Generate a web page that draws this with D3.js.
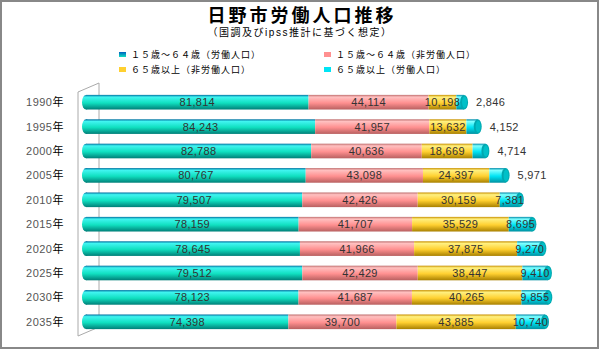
<!DOCTYPE html>
<html>
<head>
<meta charset="utf-8">
<script src="https://cdn.jsdelivr.net/npm/d3@7"></script>
<style>
  body { margin: 0; background: #fff; }
  text { font-family: "Liberation Sans", "Noto Sans CJK JP", sans-serif; }
</style>
</head>
<body>
<div id="chart"></div>
<script>
// 日野市労働人口推移
const years = ["1990", "1995", "2000", "2005", "2010", "2015", "2020", "2025", "2030", "2035"]
const work1564 = [81814, 84243, 82788, 80767, 79507, 78159, 78645, 79512, 78123, 74398]
const nonWork1564 = [44114, 41957, 40636, 43098, 42426, 41707, 41966, 42429, 41687, 39700]
const nonWork65 = [10198, 13632, 18669, 24397, 30159, 35529, 37875, 38447, 40265, 43885]
const work65 = [2846, 4152, 4714, 5971, 7381, 8695, 9270, 9410, 9855, 10740]
const seriesNames = ["１５歳～６４歳（労働人口）", "１５歳～６４歳（非労働人口）", "６５歳以上（非労働人口）", "６５歳以上（労働人口）"]

const width = 600
const height = 350

const svg = d3.select("#chart").append("svg")
  .attr("width", width)
  .attr("height", height)

// frame
svg.append("rect")
  .attr("x", 1).attr("y", 1)
  .attr("width", width - 3).attr("height", height - 3)
  .attr("fill", "#fff")
  .attr("stroke", "#888").attr("stroke-width", 2)

const palettes = [
  { top: "#40f4f0", mid: "#10e0c0", bot: "#007f78", edge: "#0070a0" },
  { top: "#ffc0c0", mid: "#ff9090", bot: "#b86060", edge: "#c07070" },
  { top: "#fff080", mid: "#ffd030", bot: "#a88000", edge: "#c89000" },
  { top: "#80ffff", mid: "#00e4f4", bot: "#0090a0", edge: "#0088a8" }
]

const defs = svg.append("defs")
palettes.forEach((p, i) => {
  const g = defs.append("linearGradient")
    .attr("id", "g" + i)
    .attr("x1", 0).attr("y1", 0).attr("x2", 0).attr("y2", 1)
  g.append("stop").attr("offset", "0%").attr("stop-color", p.edge)
  g.append("stop").attr("offset", "15%").attr("stop-color", p.top)
  g.append("stop").attr("offset", "55%").attr("stop-color", p.mid)
  g.append("stop").attr("offset", "100%").attr("stop-color", p.bot)
})
const lg = defs.append("linearGradient")
  .attr("id", "legend0")
  .attr("x1", 0).attr("y1", 0).attr("x2", 0).attr("y2", 1)
lg.append("stop").attr("offset", "0%").attr("stop-color", "#0060c0")
lg.append("stop").attr("offset", "100%").attr("stop-color", "#10e0c0")

// title
svg.append("text")
  .attr("x", 302).attr("y", 22)
  .attr("text-anchor", "middle")
  .attr("font-size", "18px").attr("font-weight", "bold")
  .attr("letter-spacing", "3px")
  .attr("fill", "#000")
  .text("日野市労働人口推移")

svg.append("text")
  .attr("x", 300).attr("y", 36)
  .attr("text-anchor", "middle")
  .attr("font-size", "10px")
  .attr("letter-spacing", "1.5px")
  .attr("fill", "#000")
  .text("（国調及びipss推計に基づく想定）")

// legend
const legendPos = [[119, 54], [324, 54], [119, 69], [324, 69]]
seriesNames.forEach((name, i) => {
  const [lx, ly] = legendPos[i]
  svg.append("rect")
    .attr("x", lx).attr("y", ly - 2)
    .attr("width", 7).attr("height", 5)
    .attr("fill", i === 0 ? "url(#legend0)" : palettes[i].mid)
  svg.append("text")
    .attr("x", lx + 12).attr("y", ly + 3.5)
    .attr("font-size", "9px")
    .attr("letter-spacing", "1px")
    .attr("fill", "#000")
    .text(name)
})

const x = d3.scaleLinear()
  .domain([0, 168723])
  .range([86, 545])

const y = d3.scaleBand()
  .domain(years)
  .range([90, 334])
  .paddingInner(0.4)
  .paddingOuter(0.2)

// 3D wall
const wall = svg.append("g").attr("stroke", "#aaa").attr("fill", "none").attr("stroke-width", 1)
wall.append("path").attr("d", "M99,83 L99,321")
wall.append("path").attr("d", "M99,83 L78,92 L78,336 L99,327")

// year labels
const yl = svg.append("g").selectAll("text")
  .data(years)
  .join("text")
  .attr("x", 64)
  .attr("y", d => y(d) + y.bandwidth() / 2 + 4)
  .attr("text-anchor", "end")
  .attr("font-size", "11px")
  .attr("letter-spacing", "0.5px")
yl.append("tspan").attr("fill", "#555").text(d => d)
yl.append("tspan").attr("fill", "#000").text("年")

const rows = years.map((yr, i) => {
  const vals = [work1564[i], nonWork1564[i], nonWork65[i], work65[i]]
  let acc = 0
  return { yr, segs: vals.map((v, k) => { const s = { k, v, x0: acc, x1: acc + v }; acc += v; return s }) }
})

const bh = y.bandwidth()
const rx = 4

rows.forEach(row => {
  const g = svg.append("g").attr("transform", `translate(0,${y(row.yr)})`)
  // left cap
  g.append("ellipse")
    .attr("cx", x(0)).attr("cy", bh / 2)
    .attr("rx", rx).attr("ry", bh / 2)
    .attr("fill", "url(#g0)")
  row.segs.forEach(s => {
    g.append("rect")
      .attr("x", x(s.x0)).attr("y", 0)
      .attr("width", x(s.x1) - x(s.x0))
      .attr("height", bh)
      .attr("fill", `url(#g${s.k})`)
  })
  const last = row.segs[3]
  g.append("ellipse")
    .attr("cx", x(last.x1)).attr("cy", bh / 2)
    .attr("rx", rx).attr("ry", bh / 2)
    .attr("fill", "#00a8b0")
  g.append("ellipse")
    .attr("cx", x(last.x1) + 0.5).attr("cy", bh / 2)
    .attr("rx", rx - 1.5).attr("ry", bh / 2 - 1.5)
    .attr("fill", "#00c0c8")

  row.segs.forEach(s => {
    const w = x(s.x1) - x(s.x0)
    const outside = s.k === 3 && w < 20
    g.append("text")
      .attr("x", outside ? x(s.x1) + 12 : (x(s.x0) + x(s.x1)) / 2)
      .attr("y", bh / 2 + 4)
      .attr("text-anchor", outside ? "start" : "middle")
      .attr("font-size", "11px")
      .attr("letter-spacing", "0.3px")
      .attr("fill", "#333")
      .text(d3.format(",")(s.v))
  })
})
</script>
</body>
</html>
